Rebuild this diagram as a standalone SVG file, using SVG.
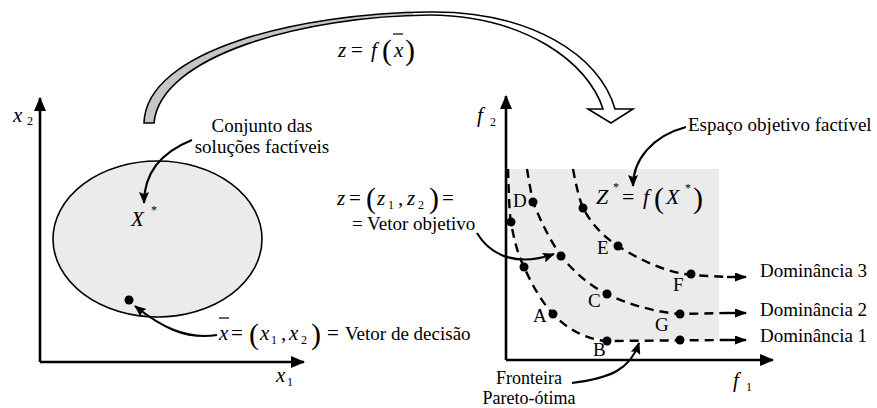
<svg xmlns="http://www.w3.org/2000/svg" width="877" height="408" viewBox="0 0 877 408">
<style>
text{font-family:'Liberation Serif','Times New Roman','DejaVu Serif',serif}
.t{font-size:19px;fill:#000}
.m{font-style:italic;font-size:21px;fill:#000}
.n{font-style:normal}
.sub{font-style:normal;font-size:12px}
.par{font-style:normal;font-size:30px}
.ax{stroke:#000;stroke-width:2.6;fill:none}
.ptr{stroke:#000;stroke-width:2.2;fill:none;marker-end:url(#ah)}
.dash{stroke:#000;stroke-width:2.4;fill:none;stroke-dasharray:9 6}
.dot{fill:#000}
</style>
<defs>
<marker id="ah" markerWidth="12" markerHeight="10" refX="11" refY="5" orient="auto" markerUnits="userSpaceOnUse"><path d="M0,0 L12,5 L0,10 L2,5 Z" fill="#000"/></marker>
<marker id="ah2" markerWidth="12" markerHeight="9" refX="11" refY="4.5" orient="auto" markerUnits="userSpaceOnUse"><path d="M0,0 L12,4.5 L0,9 Z" fill="#000"/></marker>
<marker id="axh" markerWidth="14" markerHeight="12" refX="13" refY="6" orient="auto" markerUnits="userSpaceOnUse"><path d="M0,0 L14,6 L0,12 Z" fill="#000"/></marker>
<linearGradient id="bg" gradientUnits="userSpaceOnUse" x1="144" y1="0" x2="633" y2="0">
<stop offset="0" stop-color="#c6c6c6"/><stop offset="0.55" stop-color="#c6c6c6"/><stop offset="0.55" stop-color="#fff"/><stop offset="1" stop-color="#fff"/>
</linearGradient>
</defs>

<g id="map-arrow">
<path d="M144,123 C146,50 300,13 430,12 C530,11 600,55 615,109 L633,109 L611,123 L588,109 L603,109 C588,62 525,16 430,15 C305,16 160,55 154,123 Z" fill="url(#bg)" stroke="#000" stroke-width="1.6"/>
<text class="m" x="338" y="57">z<tspan class="n" x="351">=</tspan><tspan x="371">f</tspan><tspan class="par" x="382" y="60">(</tspan><tspan x="394" y="57">x</tspan><tspan class="par" x="405" y="60">)</tspan></text>
<line x1="393" y1="34" x2="403" y2="34" stroke="#000" stroke-width="1.2"/>
</g>

<g id="decision-axes">
<path class="ax" d="M40,362 L40,98" marker-end="url(#axh)"/>
<path class="ax" d="M40,362 L304,362" marker-end="url(#axh)"/>
<text class="m" x="13" y="122">x<tspan class="sub" x="27" y="125">2</tspan></text>
<text class="m" x="276" y="382">x<tspan class="sub" x="287" y="386">1</tspan></text>
</g>

<g id="feasible-set">
<ellipse cx="157.5" cy="239" rx="104.5" ry="78" fill="#ebebeb" stroke="#000" stroke-width="1.6"/>
<text class="m" x="131" y="226">X<tspan class="sub" x="151" y="214">*</tspan></text>
<circle class="dot" cx="129" cy="300" r="4.5"/>
</g>

<g id="label-conjunto">
<text class="t" x="262" y="132" text-anchor="middle">Conjunto das</text>
<text class="t" x="262" y="153" text-anchor="middle">soluções factíveis</text>
</g>

<g id="label-decision-vector">
<text class="m" x="219" y="340">x<tspan class="n" x="231">=</tspan><tspan class="par" x="249" y="344">(</tspan><tspan x="260" y="340">x</tspan><tspan class="sub" x="271" y="344">1</tspan><tspan class="n" x="281" y="340">,</tspan><tspan x="289" y="340">x</tspan><tspan class="sub" x="301" y="344">2</tspan><tspan class="par" x="311" y="344">)</tspan><tspan class="n" x="327" y="340">=</tspan></text>
<line x1="219" y1="318" x2="229" y2="318" stroke="#000" stroke-width="1.2"/>
<text class="t" x="345" y="340">Vetor de decisão</text>
</g>

<g id="objective-region">
<path d="M507,169 L719,169 L719,340 L607,340 C588,339 568,330 553,314 C542,302 533,287 524,267 C518,255 514,240 511,222 C509,210 508,195 507,169 Z" fill="#ebebeb"/>
</g>

<g id="objective-axes">
<path class="ax" d="M506,360 L506,96" marker-end="url(#axh)"/>
<path class="ax" d="M506,360 L773,360" marker-end="url(#axh)"/>
<text class="m" x="477" y="122">f<tspan class="sub" x="490" y="126">2</tspan></text>
<text class="m" x="733" y="387">f<tspan class="sub" x="746" y="391">1</tspan></text>
</g>

<g id="front-1">
<path class="dash" d="M508,169 C509,195 509,210 511,222 C514,240 518,255 524,267 C533,287 542,302 553,314 C568,330 588,340 607,341 L727,340"/>
<path d="M727,340 L746,340" stroke="#000" stroke-width="2.4" marker-end="url(#ah2)"/>
<circle class="dot" cx="511" cy="222" r="4.5"/>
<circle class="dot" cx="524" cy="267" r="4.5"/>
<circle class="dot" cx="553" cy="314" r="4.5"/>
<circle class="dot" cx="607" cy="341" r="4.5"/>
<circle class="dot" cx="680" cy="340" r="4.5"/>
<text class="t" x="533" y="322">A</text>
<text class="t" x="593" y="356">B</text>
<text class="t" x="760" y="342">Dominância 1</text>
</g>

<g id="front-2">
<path class="dash" d="M527,169 C529,182 531,192 533,202 C541,222 550,240 561,256 C574,272 590,286 607,294 C630,305 655,312 680,314 L727,313"/>
<path d="M727,313 L746,313" stroke="#000" stroke-width="2.4" marker-end="url(#ah2)"/>
<circle class="dot" cx="533" cy="202" r="4.5"/>
<circle class="dot" cx="561" cy="256" r="4.5"/>
<circle class="dot" cx="607" cy="294" r="4.5"/>
<circle class="dot" cx="680" cy="314" r="4.5"/>
<text class="t" x="513" y="207">D</text>
<text class="t" x="588" y="307">C</text>
<text class="t" x="655" y="331">G</text>
<text class="t" x="760" y="316">Dominância 2</text>
</g>

<g id="front-3">
<path class="dash" d="M573,169 C576,185 579,198 583,208 C592,225 604,237 618,246 C640,260 665,272 691,275 L727,277"/>
<path d="M727,277 L746,277" stroke="#000" stroke-width="2.4" marker-end="url(#ah2)"/>
<circle class="dot" cx="583" cy="208" r="4.5"/>
<circle class="dot" cx="618" cy="246" r="4.5"/>
<circle class="dot" cx="691" cy="274" r="4.5"/>
<text class="t" x="597" y="254">E</text>
<text class="t" x="673" y="291">F</text>
<text class="t" x="760" y="277">Dominância 3</text>
</g>

<g id="label-objective-vector">
<text class="m" x="337" y="205">z<tspan class="n" x="349">=</tspan><tspan class="par" x="366" y="208">(</tspan><tspan x="377" y="205">z</tspan><tspan class="sub" x="388" y="209">1</tspan><tspan class="n" x="398" y="205">,</tspan><tspan x="407" y="205">z</tspan><tspan class="sub" x="418" y="209">2</tspan><tspan class="par" x="429" y="208">)</tspan><tspan class="n" x="442" y="205">=</tspan></text>
<text class="t" x="352" y="230">= Vetor objetivo</text>
</g>

<g id="label-feasible-objective">
<text class="t" x="688" y="131">Espaço objetivo factível</text>
<text class="m" x="596" y="204" style="font-size:22px">Z<tspan class="sub" x="613" y="191">*</tspan><tspan class="n" x="622" y="204">=</tspan><tspan x="643" y="204">f</tspan><tspan class="par" x="654" y="208">(</tspan><tspan x="666" y="204">X</tspan><tspan class="sub" x="685" y="192">*</tspan><tspan class="par" x="693" y="208">)</tspan></text>
</g>

<g id="label-fronteira">
<text class="t" x="529" y="384" text-anchor="middle" style="font-size:18px">Fronteira</text>
<text class="t" x="529" y="404" text-anchor="middle" style="font-size:18px">Pareto-ótima</text>
</g>

<g id="connectors">
<path class="ptr" d="M192,140 C162,152 144,172 144,203"/>
<path class="ptr" d="M217,335 C185,340 160,326 135,306"/>
<path class="ptr" d="M686,127 C652,136 633,160 633,186"/>
<path class="ptr" d="M477,233 C492,258 520,266 554,254"/>
<path class="ptr" d="M572,383 C610,378 630,370 639,343"/>
</g>
</svg>
